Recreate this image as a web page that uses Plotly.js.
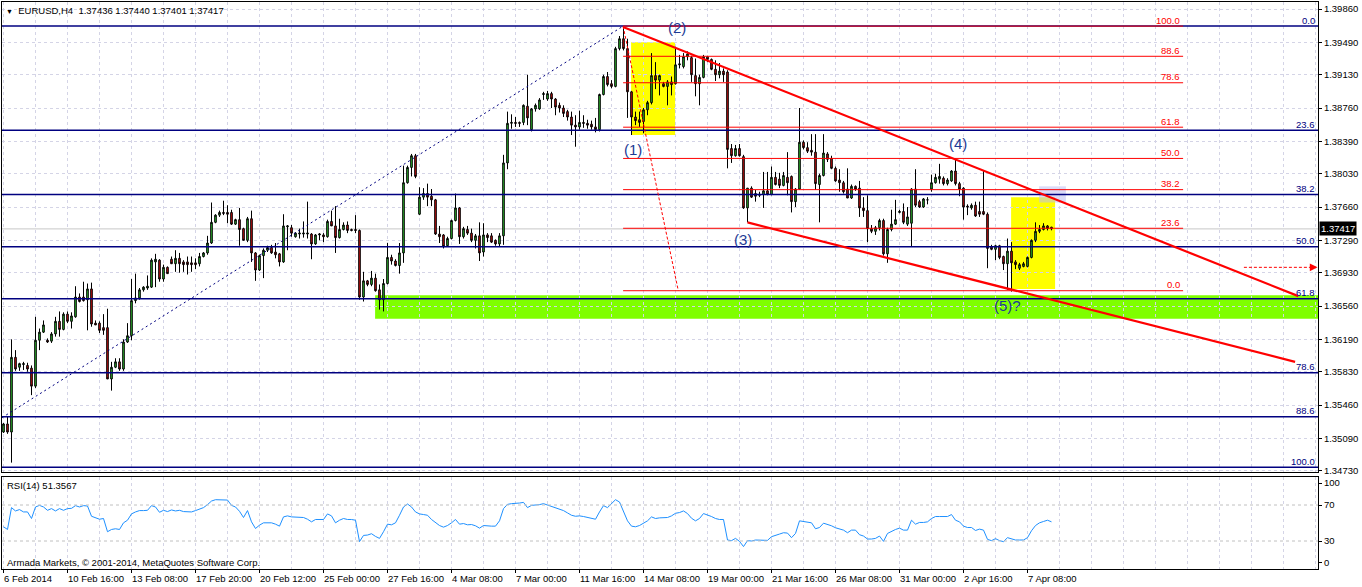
<!DOCTYPE html>
<html><head><meta charset="utf-8">
<script src="https://cdn.plot.ly/plotly-3.0.1.min.js"></script>
<style>html,body{margin:0;padding:0;background:#fff}#chart{width:1362px;height:587px}</style>
</head><body><div id="chart"></div>
<script>
// ---------- data ----------
const timeLabels = ['6 Feb 2014','10 Feb 16:00','13 Feb 08:00','17 Feb 20:00','20 Feb 12:00','25 Feb 00:00','27 Feb 16:00','4 Mar 08:00','7 Mar 00:00','11 Mar 16:00','14 Mar 08:00','19 Mar 00:00','21 Mar 16:00','26 Mar 08:00','31 Mar 00:00','2 Apr 16:00','7 Apr 08:00'];

const opens = [
1.3516,1.3525,1.3516,1.3599,1.3588,1.3591,1.3590,1.3587,1.3567,1.3618,
1.3627,1.3618,1.3617,1.3625,1.3639,1.3630,1.3647,1.3639,1.3644,1.3666,
1.3666,1.3663,1.3675,1.3637,1.3637,1.3632,1.3632,1.3575,1.3588,1.3594,
1.3586,1.3616,1.3623,1.3662,1.3665,1.3674,1.3676,1.3677,1.3705,1.3707,
1.3686,1.3699,1.3708,1.3703,1.3709,1.3705,1.3705,1.3704,1.3704,1.3703,
1.3711,1.3715,1.3726,1.3749,1.3757,1.3760,1.3760,1.3760,1.3747,1.3752,
1.3742,1.3729,1.3753,1.3715,1.3696,1.3712,1.3718,1.3721,1.3716,1.3714,
1.3705,1.3744,1.3743,1.3733,1.3736,1.3736,1.3736,1.3736,1.3725,1.3735,
1.3735,1.3733,1.3750,1.3745,1.3732,1.3741,1.3746,1.3741,1.3741,1.3740,
1.3666,1.3684,1.3680,1.3687,1.3674,1.3663,1.3681,1.3710,1.3706,1.3701,
1.3715,1.3793,1.3810,1.3823,1.3758,1.3777,1.3781,1.3778,1.3774,1.3736,
1.3735,1.3723,1.3731,1.3751,1.3765,1.3733,1.3741,1.3737,1.3729,1.3734,
1.3716,1.3735,1.3734,1.3729,1.3725,1.3734,1.3815,1.3859,1.3860,1.3860,
1.3860,1.3878,1.3852,1.3875,1.3875,1.3891,1.3886,1.3892,1.3886,1.3879,
1.3876,1.3872,1.3866,1.3857,1.3855,1.3860,1.3859,1.3858,1.3855,1.3852,
1.3891,1.3911,1.3903,1.3900,1.3942,1.3953,1.3942,1.3894,1.3866,1.3863,
1.3861,1.3874,1.3882,1.3912,1.3907,1.3903,1.3900,1.3905,1.3903,1.3924,
1.3922,1.3933,1.3932,1.3912,1.3903,1.3910,1.3933,1.3930,1.3919,1.3913,
1.3917,1.3916,1.3831,1.3823,1.3831,1.3822,1.3765,1.3787,1.3781,1.3779,
1.3780,1.3784,1.3780,1.3799,1.3797,1.3790,1.3799,1.3800,1.3772,1.3786,
1.3838,1.3832,1.3829,1.3827,1.3791,1.3801,1.3825,1.3820,1.3809,1.3796,
1.3793,1.3786,1.3776,1.3789,1.3787,1.3765,1.3762,1.3742,1.3739,1.3743,
1.3751,1.3714,1.3741,1.3747,1.3760,1.3761,1.3747,1.3748,1.3786,1.3772,
1.3766,1.3774,1.3786,1.3793,1.3797,1.3798,1.3792,1.3795,1.3806,1.3792,
1.3787,1.3767,1.3765,1.3768,1.3761,1.3761,1.3758,1.3722,1.3719,1.3723,
1.3711,1.3703,1.3717,1.3705,1.3698,1.3700,1.3700,1.3710,1.3729,1.3739,
1.3741,1.3745,1.37436];

const highs = [
1.3526,1.3533,1.3619,1.3607,1.3593,1.3594,1.3593,1.3590,1.3644,1.3631,
1.3640,1.3620,1.3627,1.3644,1.3650,1.3649,1.3650,1.3649,1.3678,1.3670,
1.3683,1.3681,1.3682,1.3640,1.3639,1.3647,1.3653,1.3594,1.3598,1.3598,
1.3619,1.3637,1.3686,1.3692,1.3676,1.3678,1.3690,1.3709,1.3714,1.3708,
1.3702,1.3700,1.3711,1.3718,1.3715,1.3707,1.3711,1.3711,1.3709,1.3715,
1.3716,1.3734,1.3771,1.3758,1.3762,1.3773,1.3768,1.3763,1.3753,1.3765,
1.3743,1.3755,1.3762,1.3716,1.3713,1.3720,1.3723,1.3724,1.3726,1.3715,
1.3758,1.3746,1.3746,1.3738,1.3742,1.3750,1.3772,1.3737,1.3736,1.3737,
1.3737,1.3752,1.3762,1.3767,1.3753,1.3749,1.3750,1.3742,1.3757,1.3741,
1.3694,1.3685,1.3695,1.3692,1.3680,1.3686,1.3726,1.3713,1.3708,1.3726,
1.3812,1.3812,1.3825,1.3825,1.3788,1.3787,1.3792,1.3786,1.3775,1.3745,
1.3736,1.3733,1.3752,1.3781,1.3766,1.3744,1.3745,1.3742,1.3736,1.3749,
1.3748,1.3737,1.3737,1.3730,1.3737,1.3824,1.3872,1.3869,1.3866,1.3861,
1.3880,1.3913,1.3876,1.3881,1.3887,1.3894,1.3895,1.3894,1.3887,1.3882,
1.3879,1.3874,1.3872,1.3868,1.3873,1.3868,1.3863,1.3862,1.3865,1.3892,
1.3913,1.3916,1.3907,1.3944,1.3956,1.3966,1.3953,1.3895,1.3872,1.3872,
1.3876,1.3884,1.3937,1.3927,1.3913,1.3905,1.3907,1.3911,1.3944,1.3935,
1.3937,1.3939,1.3934,1.3931,1.3913,1.3935,1.3934,1.3931,1.3929,1.3926,
1.3920,1.3918,1.3836,1.3835,1.3836,1.3824,1.3787,1.3789,1.3785,1.3783,
1.3805,1.3805,1.3811,1.3805,1.3804,1.3805,1.3827,1.3801,1.3787,1.3876,
1.3840,1.3838,1.3847,1.3847,1.3803,1.3847,1.3827,1.3823,1.3811,1.3808,
1.3795,1.3809,1.3791,1.3790,1.3795,1.3777,1.3779,1.3746,1.3745,1.3753,
1.3753,1.3743,1.3763,1.3774,1.3763,1.3770,1.3766,1.3787,1.3808,1.3774,
1.3776,1.3777,1.3802,1.3803,1.3814,1.3800,1.3798,1.3807,1.3820,1.3794,
1.3788,1.3769,1.3770,1.3772,1.3772,1.3807,1.3760,1.3724,1.3724,1.3724,
1.3712,1.3731,1.3727,1.3707,1.3704,1.3705,1.3711,1.3730,1.3749,1.3746,
1.3748,1.3746,1.37440];

const lows = [
1.3515,1.3514,1.3482,1.3584,1.3584,1.3585,1.3583,1.3557,1.3565,1.3607,
1.3626,1.3615,1.3615,1.3622,1.3622,1.3629,1.3637,1.3631,1.3643,1.3660,
1.3661,1.3629,1.3633,1.3635,1.3626,1.3624,1.3575,1.3562,1.3587,1.3584,
1.3584,1.3615,1.3618,1.3659,1.3663,1.3672,1.3674,1.3676,1.3677,1.3683,
1.3683,1.3692,1.3703,1.3694,1.3693,1.3694,1.3691,1.3694,1.3697,1.3700,
1.3710,1.3713,1.3725,1.3748,1.3755,1.3757,1.3748,1.3746,1.3746,1.3723,
1.3729,1.3727,1.3705,1.3684,1.3695,1.3687,1.3716,1.3714,1.3709,1.3700,
1.3704,1.3718,1.3733,1.3732,1.3731,1.3732,1.3731,1.3708,1.3724,1.3729,
1.3727,1.3732,1.3745,1.3715,1.3731,1.3740,1.3737,1.3739,1.3737,1.3663,
1.3661,1.3678,1.3678,1.3672,1.3652,1.3650,1.3680,1.3702,1.3700,1.3692,
1.3704,1.3792,1.3800,1.3798,1.3757,1.3774,1.3767,1.3767,1.3735,1.3726,
1.3720,1.3722,1.3730,1.3750,1.3725,1.3731,1.3735,1.3727,1.3720,1.3706,
1.3711,1.3727,1.3726,1.3723,1.3722,1.3724,1.3808,1.3853,1.3855,1.3855,
1.3857,1.3857,1.3850,1.3872,1.3874,1.3885,1.3884,1.3876,1.3868,1.3871,
1.3866,1.3862,1.3846,1.3833,1.3852,1.3854,1.3853,1.3852,1.3849,1.3850,
1.3890,1.3900,1.3898,1.3899,1.3940,1.3940,1.3865,1.3846,1.3857,1.3855,
1.3848,1.3868,1.3880,1.3897,1.3890,1.3899,1.3879,1.3890,1.3902,1.3920,
1.3920,1.3929,1.3905,1.3889,1.3879,1.3909,1.3927,1.3918,1.3906,1.3909,
1.3905,1.3809,1.3815,1.3822,1.3822,1.3764,1.3749,1.3776,1.3772,1.3777,
1.3765,1.3779,1.3779,1.3790,1.3787,1.3789,1.3779,1.3760,1.3766,1.3785,
1.3830,1.3826,1.3823,1.3785,1.3749,1.3800,1.3816,1.3808,1.3794,1.3783,
1.3781,1.3776,1.3775,1.3784,1.3755,1.3755,1.3727,1.3737,1.3735,1.3740,
1.3712,1.3704,1.3739,1.3746,1.3759,1.3747,1.3745,1.3722,1.3766,1.3765,
1.3765,1.3769,1.3783,1.3792,1.3792,1.3790,1.3790,1.3794,1.3790,1.3778,
1.3752,1.3757,1.3763,1.3755,1.3755,1.3757,1.3698,1.3718,1.3707,1.3708,
1.3696,1.3674,1.3672,1.3697,1.3696,1.3699,1.3699,1.3709,1.3727,1.3737,
1.3740,1.3740,1.37401];

const closes = [
1.3525,1.3516,1.3599,1.3586,1.3592,1.3592,1.3586,1.3567,1.3618,1.3627,
1.3635,1.3616,1.3625,1.3639,1.3630,1.3647,1.3639,1.3645,1.3666,1.3661,
1.3662,1.3675,1.3636,1.3635,1.3629,1.3629,1.3575,1.3588,1.3594,1.3586,
1.3616,1.3623,1.3662,1.3665,1.3674,1.3677,1.3678,1.3707,1.3708,1.3686,
1.3699,1.3692,1.3703,1.3709,1.3703,1.3702,1.3702,1.3702,1.3702,1.3711,
1.3715,1.3726,1.3749,1.3757,1.3760,1.3759,1.3758,1.3747,1.3752,1.3741,
1.3729,1.3753,1.3715,1.3696,1.3712,1.3718,1.3721,1.3715,1.3713,1.3705,
1.3745,1.3745,1.3737,1.3737,1.3737,1.3737,1.3737,1.3725,1.3735,1.3736,
1.3733,1.3750,1.3745,1.3732,1.3741,1.3746,1.3740,1.3740,1.3740,1.3666,
1.3684,1.3680,1.3687,1.3673,1.3663,1.3681,1.3710,1.3706,1.3701,1.3715,
1.3793,1.3810,1.3823,1.3800,1.3777,1.3781,1.3777,1.3774,1.3736,1.3733,
1.3722,1.3731,1.3751,1.3765,1.3733,1.3742,1.3737,1.3729,1.3734,1.3715,
1.3735,1.3732,1.3727,1.3725,1.3734,1.3815,1.3859,1.3860,1.3859,1.3859,
1.3879,1.3865,1.3875,1.3879,1.3885,1.3892,1.3892,1.3886,1.3877,1.3876,
1.3870,1.3866,1.3857,1.3855,1.3860,1.3859,1.3857,1.3855,1.3852,1.3891,
1.3911,1.3902,1.3900,1.3942,1.3953,1.3942,1.3894,1.3866,1.3862,1.3860,
1.3874,1.3882,1.3912,1.3907,1.3912,1.3900,1.3905,1.3902,1.3924,1.3925,
1.3933,1.3936,1.3913,1.3903,1.3910,1.3933,1.3930,1.3919,1.3913,1.3917,
1.3913,1.3830,1.3823,1.3831,1.3823,1.3765,1.3787,1.3777,1.3778,1.3780,
1.3784,1.3780,1.3799,1.3791,1.3790,1.3801,1.3793,1.3772,1.3786,1.3838,
1.3832,1.3828,1.3827,1.3792,1.3801,1.3826,1.3819,1.3809,1.3795,1.3793,
1.3783,1.3776,1.3789,1.3786,1.3765,1.3762,1.3742,1.3739,1.3743,1.3751,
1.3714,1.3741,1.3747,1.3752,1.3761,1.3749,1.3755,1.3786,1.3768,1.3766,
1.3775,1.3774,1.3793,1.3799,1.3800,1.3792,1.3796,1.3806,1.3792,1.3786,
1.3766,1.3766,1.3768,1.3756,1.3758,1.3758,1.3720,1.3719,1.3723,1.3710,
1.3703,1.3717,1.3704,1.3702,1.3702,1.3703,1.3710,1.3729,1.3739,1.3741,
1.3745,1.3742,1.37417];

const rsi14 = [
45.8,42.8,67.1,63.4,64.9,62.3,62.3,55.0,67.8,69.6,
67.8,64.1,66.0,63.4,66.0,64.1,66.0,66.3,69.3,67.8,
69.3,68.9,57.5,56.1,54.2,55.0,40.3,42.8,43.6,42.8,
50.2,53.1,60.1,62.3,63.8,63.8,64.1,69.3,67.8,61.9,
64.1,62.7,64.5,63.4,64.1,62.7,62.7,62.3,63.8,65.6,
67.1,70.4,74.4,75.9,75.9,75.9,75.5,69.6,67.8,63.0,
56.1,63.8,51.3,43.9,47.6,50.2,50.6,50.2,48.7,46.5,
56.8,57.9,56.8,56.8,56.1,56.1,54.2,51.3,53.9,53.9,
53.9,60.1,57.9,50.2,53.1,55.0,53.9,53.9,53.1,29.3,
36.2,36.6,38.1,35.1,32.9,40.3,48.7,48.0,50.2,58.6,
67.8,71.1,67.8,62.3,60.1,59.4,58.6,53.9,50.2,47.2,
45.4,47.2,50.2,53.9,48.7,49.4,48.0,48.3,46.9,44.3,
47.2,46.5,46.5,46.5,52.4,66.0,70.7,71.5,71.5,72.2,
72.9,67.1,69.6,69.6,70.4,71.5,70.0,68.5,67.1,65.6,
63.8,61.2,58.6,57.5,57.9,57.2,56.4,55.3,54.2,62.3,
69.3,67.1,71.5,75.9,73.3,62.3,52.4,46.5,45.8,47.2,
50.2,52.4,56.8,55.0,55.7,55.7,56.1,57.9,60.8,61.6,
63.4,60.5,55.3,52.4,55.0,60.5,59.0,57.2,55.0,53.9,
53.9,31.1,30.4,32.9,29.6,23.8,30.4,30.0,31.1,31.1,
31.1,30.7,34.8,36.6,37.7,39.2,38.8,33.7,38.4,52.4,
51.7,51.3,50.2,43.6,45.0,49.8,48.7,46.9,44.7,43.6,
42.1,39.2,42.1,42.1,37.0,35.5,32.2,32.2,32.9,35.5,
29.6,38.4,41.0,42.8,44.3,42.1,42.1,53.1,48.7,50.6,
50.6,51.3,55.0,57.2,57.2,56.8,57.2,59.4,53.1,51.3,
46.5,45.0,45.0,41.7,43.2,42.1,31.8,30.4,32.6,30.4,
29.3,33.7,32.6,31.1,31.1,31.1,33.7,41.4,47.2,50.2,
51.7,53.1,51.3];

const priceTicks = [1.39860,1.39490,1.39130,1.38760,1.38390,1.38030,1.37660,1.37290,1.36930,1.36560,1.36190,1.35830,1.35460,1.35090,1.34730];
const priceTickText = ['1.39860','1.39490','1.39130','1.38760','1.38390','1.38030','1.37660','1.37290','1.36930','1.36560','1.36190','1.35830','1.35460','1.35090','1.34730'];
const rsiTickPos = [5.6, 30, 70, 94.4];
const rsiTickText = ['0','30','70','100'];
const rsiLevels = [70, 30];

const fibLevels = [0, 23.6, 38.2, 50, 61.8, 78.6, 88.6, 100];
const fibLevelText = ['0.0','23.6','38.2','50.0','61.8','78.6','88.6','100.0'];
const blueFibHigh = 1.3967, blueFibLow = 1.3477, blueFibStartX = -0.375;
const blueFibStartPrice = 1.3532, blueFibEndX = 154.9;
const redFibHigh = 1.3967, redFibLow = 1.3673;
const redFibStartX = 154.9, redFibEndX = 294.9, redFibLowX = 168.7;

const upperTrendX = [154.9, 323.7], upperTrendY = [1.3966, 1.3667];
const lowerTrendX = [186.0, 322.9], lowerTrendY = [1.3749, 1.3594];

const greenZoneX0 = 92.9, greenZoneTop = 1.3668, greenZoneBottom = 1.3642;
const yellowA = {x0:156.9, x1:167.9, y0:1.3846, y1:1.3949};
const yellowB = {x0:251.9, x1:262.9, y0:1.3675, y1:1.3777};
const lavBox = {x0:258.9, x1:265.6, y0:1.3771, y1:1.3789};
const arrowX = [310.1, 328.5], arrowPrice = 1.3699;

const waveText = ['(1)','(2)','(3)','(4)','(5)?'];
const waveX = [157.4, 168.4, 184.9, 238.6, 251.1];
const waveY = [1.3830, 1.3966, 1.3730, 1.3837, 1.3657];

const lastPrice = 1.37417;
const headerText = 'EURUSD,H4  1.37436 1.37440 1.37401 1.37417';
const rsiText = 'RSI(14) 51.3567';
const footerText = 'Armada Markets, \u00a9 2001-2014, MetaQuotes Software Corp.';

// ---------- drawing ----------
const W = 1362, H = 587;
const X = px => px / W;
const Y = px => 1 - px / H;
const FONT = 'Liberation Sans, Arial, sans-serif';
const GRID = '#d4d4e6';
const NAVY = '#000080';
const WAVE = '#1c3a94';

const idx = opens.map((_, i) => i);
const gridVals = [];
for (let v = 0; v <= 328; v += 8) gridVals.push(v);
const labelVals = timeLabels.map((_, k) => k * 16);

const traces = [
  {type:'candlestick', x:idx, open:opens, high:highs, low:lows, close:closes,
   xaxis:'x', yaxis:'y', whiskerwidth:0, hoverinfo:'skip',
   increasing:{line:{color:'#000', width:1}, fillcolor:'#33cc33'},
   decreasing:{line:{color:'#000', width:1}, fillcolor:'#dd1111'}},
  {type:'scatter', mode:'lines', x:idx, y:rsi14, xaxis:'x2', yaxis:'y2',
   line:{color:'#1e90ff', width:1}, hoverinfo:'skip'}
];

const shapes = [];
const annotations = [];

// background rectangles
shapes.push({type:'rect', layer:'below', xref:'x', yref:'y', x0:greenZoneX0, x1:340, y0:greenZoneBottom, y1:greenZoneTop, fillcolor:'#7fff00', line:{width:0}});
[yellowA, yellowB].forEach(r => shapes.push({type:'rect', layer:'below', xref:'x', yref:'y', x0:r.x0, x1:r.x1, y0:r.y0, y1:r.y1, fillcolor:'#ffff00', line:{width:0}}));
shapes.push({type:'rect', layer:'below', xref:'x', yref:'y', x0:lavBox.x0, x1:lavBox.x1, y0:lavBox.y0, y1:lavBox.y1, fillcolor:'rgba(190,190,240,0.55)', line:{width:0}});

// bid line
shapes.push({type:'line', layer:'below', xref:'x domain', x0:0, x1:1, yref:'y', y0:lastPrice, y1:lastPrice, line:{color:'#c8c8c8', width:1}});

// blue fibonacci
fibLevels.forEach((l, k) => {
  const p = blueFibHigh - (blueFibHigh - blueFibLow) * l / 100;
  shapes.push({type:'line', xref:'x domain', x0:0, x1:1, yref:'y', y0:p, y1:p, line:{color:NAVY, width:1.5}});
  annotations.push({xref:'paper', x:X(1317), xanchor:'right', yref:'y', y:p, yanchor:'middle', yshift:6,
    text:fibLevelText[k], showarrow:false, font:{family:FONT, size:9.5, color:NAVY}});
});
shapes.push({type:'line', xref:'x', yref:'y', x0:blueFibStartX, y0:blueFibStartPrice, x1:blueFibEndX, y1:blueFibHigh,
  line:{color:NAVY, width:1, dash:'2px,3px'}});

// red fibonacci
fibLevels.forEach((l, k) => {
  const p = redFibLow + (redFibHigh - redFibLow) * l / 100;
  shapes.push({type:'line', xref:'x', x0:redFibStartX, x1:redFibEndX, yref:'y', y0:p, y1:p, line:{color:'#ff0000', width:1}});
  annotations.push({xref:'x', x:redFibEndX - 0.2, xanchor:'right', yref:'y', y:p, yanchor:'middle', yshift:6,
    text:fibLevelText[k], showarrow:false, font:{family:FONT, size:9.5, color:'#ff0000'}});
});
shapes.push({type:'line', xref:'x', yref:'y', x0:redFibStartX, y0:redFibHigh, x1:redFibLowX, y1:redFibLow,
  line:{color:'#ff0000', width:1, dash:'3px,2px'}});

// channel trend lines
shapes.push({type:'line', xref:'x', yref:'y', x0:upperTrendX[0], y0:upperTrendY[0], x1:upperTrendX[1], y1:upperTrendY[1], line:{color:'#ff0000', width:2.2}});
shapes.push({type:'line', xref:'x', yref:'y', x0:lowerTrendX[0], y0:lowerTrendY[0], x1:lowerTrendX[1], y1:lowerTrendY[1], line:{color:'#ff0000', width:2.2}});

// dashed arrow
shapes.push({type:'line', xref:'x', yref:'y', x0:arrowX[0], y0:arrowPrice, x1:arrowX[1] - 0.6, y1:arrowPrice, line:{color:'#ff0000', width:1, dash:'3px,2px'}});
annotations.push({xref:'x', yref:'y', x:arrowX[1], y:arrowPrice, axref:'x', ayref:'y', ax:arrowX[1] - 1.5, ay:arrowPrice,
  showarrow:true, arrowhead:2, arrowsize:1.1, arrowwidth:1.4, arrowcolor:'#ff0000', text:''});

// RSI levels
rsiLevels.forEach(l => shapes.push({type:'line', xref:'x2 domain', x0:0, x1:1, yref:'y2', y0:l, y1:l, line:{color:'#c0c0c0', width:1, dash:'3px,3px'}}));

// time axis tick marks and labels (MT4 style: text to the right of the tick)
labelVals.forEach((v, k) => {
  shapes.push({type:'line', xref:'x2', yref:'paper', x0:v, x1:v, y0:Y(569), y1:Y(573), line:{color:'#000', width:1}});
  annotations.push({xref:'x2', yref:'paper', x:v, y:Y(578), xanchor:'left', yanchor:'middle', xshift:-2, showarrow:false,
    text:timeLabels[k], font:{family:FONT, size:9.5, color:'#000'}});
});

// wave labels
waveText.forEach((t, k) => annotations.push({xref:'x', yref:'y', x:waveX[k], y:waveY[k], text:t, showarrow:false,
  xanchor:'center', yanchor:'middle', font:{family:FONT, size:15, color:WAVE}}));

// texts
annotations.push({xref:'paper', yref:'paper', x:X(4), y:Y(10), xanchor:'left', yanchor:'middle', showarrow:false,
  text:'<span style="font-size:7px">\u25BC</span>  ' + headerText, font:{family:FONT, size:9.5, color:'#000'}});
annotations.push({xref:'paper', yref:'paper', x:X(5), y:Y(485), xanchor:'left', yanchor:'middle', showarrow:false,
  text:rsiText, font:{family:FONT, size:9.5, color:'#000'}});
annotations.push({xref:'paper', yref:'paper', x:X(5), y:Y(562), xanchor:'left', yanchor:'middle', showarrow:false,
  text:footerText, font:{family:FONT, size:9.5, color:'#000'}});
annotations.push({xref:'paper', yref:'y', x:X(1319), y:lastPrice, xanchor:'left', yanchor:'middle', showarrow:false,
  text:'1.37417', bgcolor:'#000', borderpad:1, font:{family:FONT, size:9.5, color:'#fff'}});

const axisCommon = {showline:true, mirror:true, linecolor:'#000', linewidth:1, zeroline:false, fixedrange:true, automargin:false};

const layout = {
  width:W, height:H, margin:{l:0, r:0, t:0, b:0},
  paper_bgcolor:'#fff', plot_bgcolor:'#fff',
  showlegend:false, hovermode:false, dragmode:false, boxgap:0.42,
  font:{family:FONT, size:9.5, color:'#000'},
  xaxis:Object.assign({}, axisCommon, {domain:[X(2), X(1318)], range:[-0.375, 328.625], anchor:'y',
    tickmode:'array', tickvals:gridVals, showticklabels:false, ticks:'',
    showgrid:true, gridcolor:GRID, griddash:'3px,3px', gridwidth:1, rangeslider:{visible:false}}),
  yaxis:Object.assign({}, axisCommon, {domain:[Y(472), Y(2)], range:[1.34716, 1.39938], anchor:'x', side:'right',
    tickmode:'array', tickvals:priceTicks, ticktext:priceTickText, ticks:'outside', ticklen:3, tickcolor:'#000',
    showgrid:true, gridcolor:GRID, griddash:'3px,3px', gridwidth:1, tickfont:{family:FONT, size:9.5, color:'#000'}}),
  xaxis2:Object.assign({}, axisCommon, {domain:[X(2), X(1318)], matches:'x', anchor:'y2',
    tickmode:'array', tickvals:gridVals, showticklabels:false, ticks:'',
    showgrid:true, gridcolor:GRID, griddash:'3px,3px', gridwidth:1}),
  yaxis2:Object.assign({}, axisCommon, {domain:[Y(569), Y(476.5)], range:[-1.11, 101.67], anchor:'x2', side:'right',
    tickmode:'array', tickvals:rsiTickPos, ticktext:rsiTickText, ticks:'outside', ticklen:3, tickcolor:'#000',
    showgrid:false, tickfont:{family:FONT, size:9.5, color:'#000'}}),
  shapes:shapes,
  annotations:annotations
};

Plotly.newPlot('chart', traces, layout, {staticPlot:true, displayModeBar:false});
</script>
</body></html>
